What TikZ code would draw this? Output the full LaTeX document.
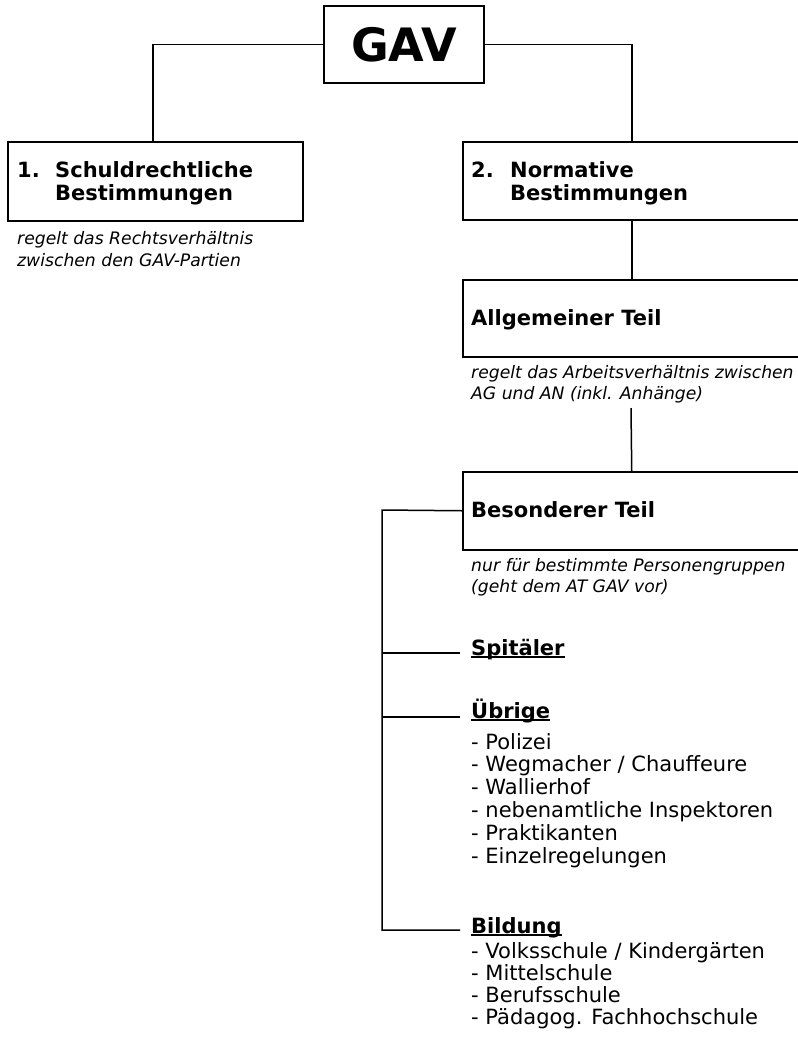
\documentclass[tikz,border=0pt]{standalone}
\usepackage{fontspec}
\setmainfont{DejaVu Sans}
\newcommand\myul[1]{\setbox0\hbox{#1}\rlap{\rule[-2.8pt]{\wd0}{1.4pt}}\box0}
\begin{document}
\begin{tikzpicture}[x=1pt,y=-1pt,
  box/.style={draw,line width=1.5pt,inner sep=0pt,anchor=north west},
  conn/.style={line width=1.5pt},
  hd/.style={anchor=base west,inner sep=0pt,font=\fontsize{21}{23}\selectfont\bfseries},
  nt/.style={anchor=base west,inner sep=0pt,font=\fontsize{17.2}{21.5}\selectfont\itshape},
  li/.style={anchor=base west,inner sep=0pt,font=\fontsize{21}{22.8}\selectfont}]
\useasboundingbox (0,0) rectangle (798,1037);
% boxes
\node[draw,line width=1.5pt,inner sep=0pt,minimum width=160pt,minimum height=77pt,
  font=\fontsize{46}{46}\selectfont\bfseries] (gav) at (404,44.5) {GAV};
\node[box,minimum width=295pt,minimum height=79pt] (b1) at (7,141) {};
\node[box,minimum width=338pt,minimum height=78pt] (b2) at (462,141) {};
\node[box,minimum width=338pt,minimum height=77pt] (at) at (462,279) {};
\node[box,minimum width=338pt,minimum height=78pt] (bt) at (462,471) {};
% texts
\node[hd] (n1num) at (17,177) {1.};
\node[hd] (n1a) at (55,177) {Schuldrechtliche};
\node[hd] (n1b) at (55,200) {Bestimmungen};
\node[nt] (n1na) at (17,244) {regelt das Rechtsverhältnis};
\node[nt] (n1nb) at (17,266) {zwischen den GAV-Partien};
\node[hd] (n2num) at (471,177) {2.};
\node[hd] (n2a) at (510,177) {Normative};
\node[hd] (n2b) at (510,200) {Bestimmungen};
\node[hd] (attxt) at (471,325) {Allgemeiner Teil};
\node[nt] (atna) at (471,378) {regelt das Arbeitsverhältnis zwischen};
\node[nt] (atnb) at (471,399.5) {AG und AN (inkl. Anhänge)};
\node[hd] (bttxt) at (471,517) {Besonderer Teil};
\node[nt] (btna) at (471,571) {nur für bestimmte Personengruppen};
\node[nt] (btnb) at (471,592.5) {(geht dem AT GAV vor)};
\node[hd] (spit) at (471,655) {\myul{Spitäler}};
\node[hd] (ueb) at (471,718) {\myul{Übrige}};
\foreach \t [count=\i from 0] in {Polizei,Wegmacher / Chauffeure,Wallierhof,nebenamtliche Inspektoren,Praktikanten,Einzelregelungen}
  \node[li] (ueb\i) at (471,749+22.8*\i) {- \t};
\node[hd] (bild) at (471,933) {\myul{Bildung}};
\foreach \t [count=\i from 0] in {Volksschule / Kindergärten,Mittelschule,Berufsschule,Pädagog. Fachhochschule}
  \node[li] (bild\i) at (471,958+22*\i) {- \t};
% connectors
\draw[conn] (gav.west) -| ([xshift=-2.5pt]b1.north);
\draw[conn] (gav.east) -| (b2.north);
\draw[conn] (b2.south) -- (at.north);
\coordinate (atlink) at (631,408);
\draw[conn] (atlink) -- (bt.north);
\coordinate (tk0) at (382,510);
\coordinate (tk1) at (382,653);
\coordinate (tk2) at (382,717);
\coordinate (tk3) at (382,930);
\coordinate (ce1) at (460,653);
\coordinate (ce2) at (460,717);
\coordinate (ce3) at (460,930);
\draw[conn] (bt.west) -- (tk0) -- (tk3) -- (ce3);
\draw[conn] (tk1) -- (ce1);
\draw[conn] (tk2) -- (ce2);
\end{tikzpicture}
\end{document}
